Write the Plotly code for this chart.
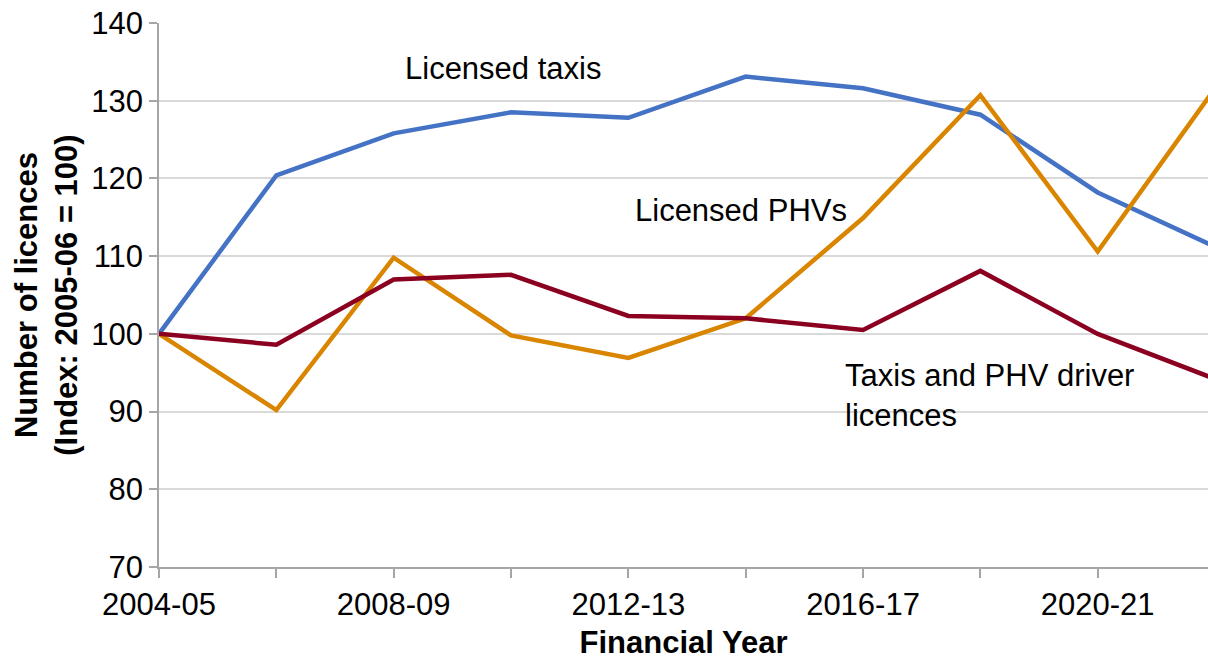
import plotly.graph_objects as go

# financial years, one point every two years
years = ["2004-05", "2006-07", "2008-09", "2010-11", "2012-13",
         "2014-15", "2016-17", "2018-19", "2020-21", "2022-23"]
tick_labels = ["2004-05", "", "2008-09", "", "2012-13",
               "", "2016-17", "", "2020-21", ""]

# index values, 2005-06 = 100
taxis = [100, 120.4, 125.8, 128.5, 127.8, 133.1, 131.6, 128.2, 118.2, 111.2]
phvs = [100, 90.2, 109.8, 99.8, 96.9, 102.0, 114.9, 130.7, 110.6, 131.6]
drivers = [100, 98.6, 107.0, 107.6, 102.3, 102.0, 100.5, 108.1, 100.0, 94.2]

FONT = "Liberation Sans, Arial, sans-serif"
FS = 31

fig = go.Figure()
fig.add_trace(go.Scatter(x=years, y=taxis, mode="lines", name="Licensed taxis",
                         line=dict(color="#4472C4", width=4.5)))
fig.add_trace(go.Scatter(x=years, y=phvs, mode="lines", name="Licensed PHVs",
                         line=dict(color="#D98500", width=4.5)))
fig.add_trace(go.Scatter(x=years, y=drivers, mode="lines", name="Taxis and PHV driver licences",
                         line=dict(color="#8B0021", width=4.5)))

# series labels sitting next to the lines
labels = [
    ("Licensed taxis", 2.08, 134.1),
    ("Licensed PHVs", 4.04, 115.9),
    ("Taxis and PHV driver<br>licences", 5.83, 92.1),
]
for text, x, y in labels:
    fig.add_annotation(text=text, x=x, y=y, xref="x", yref="y", showarrow=False,
                       xanchor="left", yanchor="middle", align="left",
                       font=dict(family=FONT, size=FS, color="#000000"))

# y axis title as rotated two-line annotation
fig.add_annotation(text="<b>Number of licences<br>(Index: 2005-06 = 100)</b>",
                   x=-0.108, y=0.5, xref="paper", yref="paper", textangle=-90,
                   showarrow=False, xanchor="center", yanchor="middle",
                   font=dict(family=FONT, size=FS, color="#000000"))

fig.update_xaxes(
    type="category", categoryorder="array", categoryarray=years,
    tickmode="array", tickvals=years, ticktext=tick_labels,
    range=[0, 8.94], automargin=False,
    showgrid=False, showline=True, linecolor="#A6A6A6", linewidth=1.5,
    ticks="outside", ticklen=9, tickcolor="#A6A6A6", tickwidth=1.5,
    tickfont=dict(family=FONT, size=FS, color="#000000"),
    title=dict(text="<b>Financial Year</b>", standoff=12,
               font=dict(family=FONT, size=FS, color="#000000")),
    zeroline=False,
)
fig.update_yaxes(
    range=[70, 140], dtick=10, automargin=False,
    showgrid=True, gridcolor="#D9D9D9", gridwidth=1.5,
    showline=True, linecolor="#A6A6A6", linewidth=1.5,
    ticks="outside", ticklen=8, tickcolor="#A6A6A6", tickwidth=1.5,
    tickfont=dict(family=FONT, size=FS, color="#000000"),
    zeroline=False,
)

fig.update_layout(
    width=1208, height=660,
    margin=dict(l=159, r=0, t=23, b=93),
    paper_bgcolor="white", plot_bgcolor="white",
    showlegend=False,
    font=dict(family=FONT),
)

# drop the default page margin so the figure sits at the window's corner
fig.write_html("out.html", config={"displayModeBar": False},
               post_script="document.body.style.margin='0';document.body.style.overflow='hidden';")
